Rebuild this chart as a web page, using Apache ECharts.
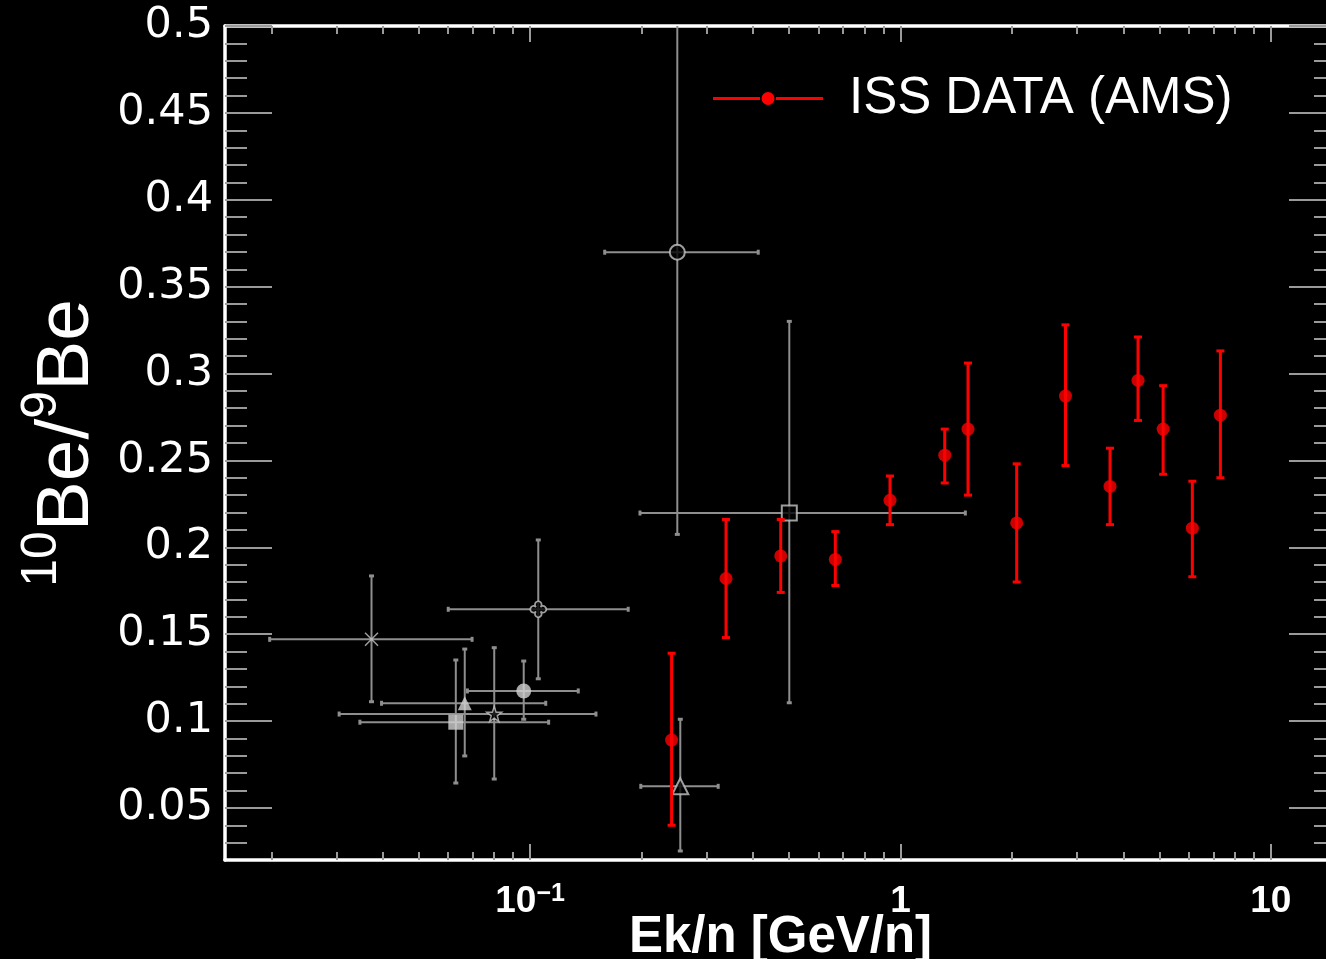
<!DOCTYPE html>
<html>
<head>
<meta charset="utf-8">
<script src="https://cdn.jsdelivr.net/npm/echarts@6/dist/echarts.min.js"></script>
<style>
html,body{margin:0;padding:0;background:#000;}
#chart{width:1326px;height:959px;}
</style>
</head>
<body>
<div id="chart"></div>
<script>
// ---------- DATA ----------
// AMS (ISS) 10Be/9Be points
const amsE     = [0.241, 0.338, 0.475, 0.667, 0.937, 1.317, 1.522, 2.06, 2.79, 3.68, 4.38, 5.12, 6.14, 7.31];
const amsRatio = [0.089, 0.182, 0.195, 0.193, 0.227, 0.253, 0.268, 0.214, 0.287, 0.235, 0.296, 0.268, 0.211, 0.276];
const amsLow   = [0.040, 0.148, 0.174, 0.178, 0.213, 0.237, 0.230, 0.180, 0.247, 0.213, 0.273, 0.242, 0.183, 0.240];
const amsHigh  = [0.139, 0.216, 0.216, 0.209, 0.241, 0.268, 0.306, 0.248, 0.328, 0.257, 0.321, 0.293, 0.238, 0.313];

// Other experiments (grey)
const otherMarkers = ['asterisk', 'filledSquare', 'filledTriangle', 'openStar', 'filledCircle', 'clover', 'openCircle', 'openTriangle', 'openSquare'];
const otherE       = [0.0373, 0.0630, 0.0666, 0.0800, 0.0961, 0.1052, 0.2497, 0.2544, 0.501];
const otherRatio   = [0.147, 0.0993, 0.1102, 0.104, 0.1173, 0.1643, 0.3698, 0.0624, 0.2197];
const otherELow    = [0.0198, 0.0347, 0.0397, 0.0305, 0.0677, 0.0601, 0.159, 0.199, 0.198];
const otherEHigh   = [0.0697, 0.1122, 0.1102, 0.1506, 0.1349, 0.184, 0.413, 0.322, 1.497];
const otherRLow    = [0.1111, 0.0643, 0.0799, 0.0666, 0.1010, 0.1243, 0.2074, 0.0252, 0.1105];
const otherRHigh   = [0.1835, 0.1351, 0.1414, 0.1422, 0.1345, 0.2042, 0.533, 0.101, 0.330];

// Axes
const xMin = 0.015, xMax = 15;
const yMin = 0.02, yMax = 0.5;
const xMajor = [0.1, 1, 10];
const xTickLabels = ['{m|10}{e|\u22121}', '{m|1}', '{m|10}'];
const yMajor = [0.05, 0.1, 0.15, 0.2, 0.25, 0.3, 0.35, 0.4, 0.45, 0.5];
const yTickLabels = ['0.05', '0.1', '0.15', '0.2', '0.25', '0.3', '0.35', '0.4', '0.45', '0.5'];
const seriesName = 'ISS DATA (AMS)';
const xTitle = 'Ek/n [GeV/n]';
const yTitle = '{s|10}{b|Be/}{s|9}{b|Be}';

// ---------- minor tick positions ----------
const xMinor = [];
[0.01, 0.1, 1].forEach(d => { for (let k = 2; k <= 9; k++) { const v = +(d * k).toPrecision(6); if (v >= xMin && v <= xMax) xMinor.push(v); } });
const yMinor = [];
for (let i = 3; i <= 49; i++) { yMinor.push(+(i / 100).toFixed(2)); }

// ---------- styles ----------
const GREY_BAR = '#8e8e8e';
const GREY_MK = '#d2d2d2';
const GREY_OPEN = '#c4c4c4';
const markerStyles = {
  asterisk:      { symbol: 'path://M0,0L10,10M10,0L0,10', symbolSize: 13, itemStyle: { color: 'rgba(0,0,0,0)', borderColor: GREY_OPEN, borderWidth: 1.5 } },
  filledSquare:  { symbol: 'rect', symbolSize: 15, itemStyle: { color: GREY_MK } },
  filledTriangle:{ symbol: 'triangle', symbolSize: 14, itemStyle: { color: GREY_MK } },
  openStar:      { symbol: 'path://M10,0 L12.35,6.76 L19.51,6.91 L13.8,11.24 L15.88,18.09 L10,14 L4.12,18.09 L6.2,11.24 L0.49,6.91 L7.65,6.76 Z', symbolSize: 15, itemStyle: { color: '#000', borderColor: GREY_OPEN, borderWidth: 1.5 } },
  filledCircle:  { symbol: 'circle', symbolSize: 15, itemStyle: { color: GREY_MK } },
  clover:        { symbol: 'path://M6,6 A3,3 0 1,1 10,6 A3,3 0 1,1 10,10 A3,3 0 1,1 6,10 A3,3 0 1,1 6,6 Z', symbolSize: 16, itemStyle: { color: '#000', borderColor: GREY_OPEN, borderWidth: 1.8 } },
  openCircle:    { symbol: 'circle', symbolSize: 15, itemStyle: { color: '#000', borderColor: GREY_OPEN, borderWidth: 2 } },
  openTriangle:  { symbol: 'triangle', symbolSize: 16, itemStyle: { color: '#000', borderColor: GREY_OPEN, borderWidth: 2 } },
  openSquare:    { symbol: 'rect', symbolSize: 15, itemStyle: { color: '#000', borderColor: GREY_OPEN, borderWidth: 2 } }
};

function errorBars(opts) {
  return function (params, api) {
    const x = api.value(0), y = api.value(1);
    const lo = api.coord([x, api.value(2)]);
    const hi = api.coord([x, api.value(3)]);
    const ch = [
      { type: 'line', shape: { x1: lo[0], y1: lo[1], x2: hi[0], y2: hi[1] }, style: { stroke: opts.color, lineWidth: opts.lw } },
      { type: 'rect', shape: { x: lo[0] - opts.capW / 2, y: lo[1] - opts.capH / 2, width: opts.capW, height: opts.capH }, style: { fill: opts.color } },
      { type: 'rect', shape: { x: hi[0] - opts.capW / 2, y: hi[1] - opts.capH / 2, width: opts.capW, height: opts.capH }, style: { fill: opts.color } }
    ];
    if (opts.horizontal) {
      const l = api.coord([api.value(4), y]);
      const r = api.coord([api.value(5), y]);
      ch.push(
        { type: 'line', shape: { x1: l[0], y1: l[1], x2: r[0], y2: r[1] }, style: { stroke: opts.color, lineWidth: opts.lw } },
        { type: 'rect', shape: { x: l[0] - opts.capH / 2, y: l[1] - opts.capW / 2, width: opts.capH, height: opts.capW }, style: { fill: opts.color } },
        { type: 'rect', shape: { x: r[0] - opts.capH / 2, y: r[1] - opts.capW / 2, width: opts.capH, height: opts.capW }, style: { fill: opts.color } }
      );
    }
    return { type: 'group', children: ch };
  };
}

function xLabel(v) {
  for (let i = 0; i < xMajor.length; i++) {
    if (Math.abs(Math.log10(v) - Math.log10(xMajor[i])) < 1e-6) return xTickLabels[i];
  }
  return '';
}
function yLabel(v) {
  for (let i = 0; i < yMajor.length; i++) {
    if (Math.abs(v - yMajor[i]) < 1e-6) return yTickLabels[i];
  }
  return '';
}

const TICK = { color: '#9a9a9a', width: 2 };
const FRAME = { color: '#ffffff', width: 3.5 };
const gridPos = { left: 225, top: 26, right: -10, bottom: 99, containLabel: false, outerBoundsMode: 'none' };

function xAx(gridIndex, position, values, len, main) {
  return {
    type: 'log', logBase: 10, gridIndex, position, min: xMin, max: xMax,
    axisLine: main ? { show: true, lineStyle: FRAME } : { show: false },
    axisTick: { show: true, inside: true, length: len, customValues: values, lineStyle: TICK },
    splitLine: { show: false }, minorTick: { show: false },
    axisLabel: { show: false }
  };
}
function yAx(gridIndex, position, values, len, main) {
  return {
    type: 'value', gridIndex, position, min: yMin, max: yMax,
    axisLine: main ? { show: true, lineStyle: FRAME } : { show: false },
    axisTick: { show: true, inside: true, length: len, customValues: values, lineStyle: TICK },
    splitLine: { show: false },
    axisLabel: { show: false }
  };
}

const xAxes = [
  xAx(0, 'bottom', xMajor, 16, true),
  xAx(0, 'top', xMajor, 16, true),
  xAx(1, 'bottom', xMinor, 8, false),
  xAx(1, 'top', xMinor, 8, false)
];
xAxes[0].axisLabel = {
  show: true, customValues: xMajor, formatter: xLabel, margin: 22,
  color: '#fff', fontFamily: 'Liberation Sans', fontWeight: 'bold', fontSize: 37, lineHeight: 40,
  rich: {
    m: { color: '#fff', fontFamily: 'Liberation Sans', fontWeight: 'bold', fontSize: 37, lineHeight: 40 },
    e: { color: '#fff', fontFamily: 'Liberation Sans', fontWeight: 'bold', fontSize: 25, lineHeight: 22, verticalAlign: 'top' }
  }
};
xAxes[0].name = xTitle;
xAxes[0].nameLocation = 'middle';
xAxes[0].nameGap = 52;
xAxes[0].nameMoveOverlap = false;
xAxes[0].nameTextStyle = { color: '#fff', fontFamily: 'Liberation Sans', fontWeight: 'bold', fontSize: 51, lineHeight: 51 };

const yAxes = [
  yAx(0, 'left', yMajor, 47, true),
  yAx(0, 'right', yMajor, 47, true),
  yAx(1, 'left', yMinor, 22, false),
  yAx(1, 'right', yMinor, 22, false)
];
yAxes[0].axisLabel = {
  show: true, customValues: yMajor, formatter: yLabel, margin: 12,
  color: '#fff', fontFamily: 'DejaVu Sans', fontSize: 43
};
yAxes[0].name = yTitle;
yAxes[0].nameLocation = 'middle';
yAxes[0].nameRotate = 90;
yAxes[0].nameGap = 108;
yAxes[0].nameMoveOverlap = false;
yAxes[0].nameTextStyle = {
  color: '#fff', fontFamily: 'Liberation Sans',
  rich: {
    b: { color: '#fff', fontFamily: 'Liberation Sans', fontSize: 75, lineHeight: 100 },
    s: { color: '#fff', fontFamily: 'Liberation Sans', fontSize: 50, lineHeight: 50, verticalAlign: 'top' }
  }
};

const amsBarData = amsE.map((e, i) => [e, amsRatio[i], amsLow[i], amsHigh[i]]);
const amsPtData = amsE.map((e, i) => [e, amsRatio[i]]);
const otherBarData = otherE.map((e, i) => [e, otherRatio[i], otherRLow[i], otherRHigh[i], otherELow[i], otherEHigh[i]]);
const otherPtData = otherE.map((e, i) => Object.assign({ value: [e, otherRatio[i]] }, markerStyles[otherMarkers[i]]));

const chart = echarts.init(document.getElementById('chart'), null, { renderer: 'canvas' });
chart.setOption({
  backgroundColor: '#000',
  animation: false,
  grid: [
    Object.assign({ show: false }, gridPos),
    Object.assign({ show: false }, gridPos)
  ],
  xAxis: xAxes,
  yAxis: yAxes,
  legend: {
    show: true,
    data: [{ name: seriesName, icon: 'path://M0,5L47,5L47,8L0,8Z M63,5L110,5L110,8L63,8Z M48.5,6.5A6.5,6.5 0 1,1 61.5,6.5A6.5,6.5 0 1,1 48.5,6.5Z' }],
    left: 713, top: 73, padding: 0,
    itemWidth: 110, itemHeight: 13,
    textStyle: { color: '#fff', fontFamily: 'Liberation Sans', fontSize: 51, padding: [0, 0, 0, 21] },
    selectedMode: false
  },
  series: [
    {
      type: 'custom', name: 'others-err', xAxisIndex: 0, yAxisIndex: 0, clip: true, z: 2,
      renderItem: errorBars({ color: GREY_BAR, lw: 2, capW: 5, capH: 3, horizontal: true }),
      encode: { x: 0, y: 1 }, data: otherBarData
    },
    {
      type: 'scatter', name: 'others', xAxisIndex: 0, yAxisIndex: 0, z: 3,
      data: otherPtData
    },
    {
      type: 'custom', name: seriesName, xAxisIndex: 0, yAxisIndex: 0, clip: true, z: 4,
      itemStyle: { color: '#ff0000' },
      renderItem: errorBars({ color: '#ff0000', lw: 3, capW: 8, capH: 3, horizontal: false }),
      encode: { x: 0, y: 1 }, data: amsBarData
    },
    {
      type: 'scatter', name: seriesName, xAxisIndex: 0, yAxisIndex: 0, z: 5,
      symbol: 'circle', symbolSize: 13, itemStyle: { color: '#ff0000' },
      data: amsPtData
    }
  ]
});
</script>
</body>
</html>
